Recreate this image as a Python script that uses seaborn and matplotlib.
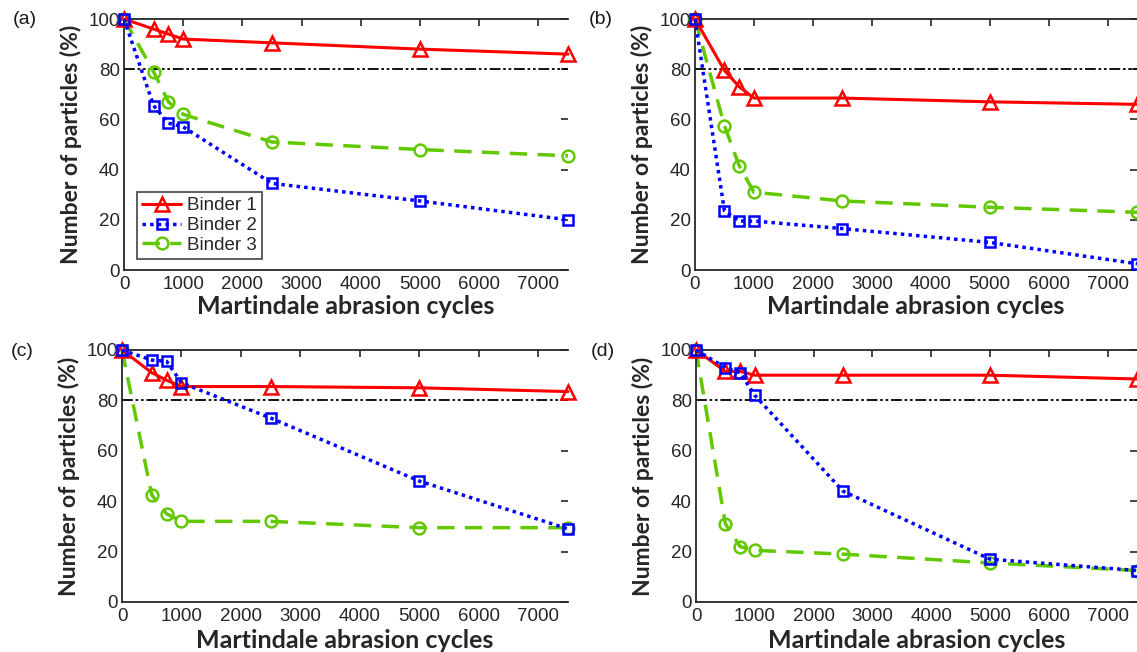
import matplotlib
matplotlib.use("Agg")
import matplotlib.pyplot as plt
import seaborn as sns
import pandas as pd

cycles = [0, 500, 750, 1000, 2500, 5000, 7500]
binders = ["Binder 1", "Binder 2", "Binder 3"]
panel_labels = ["(a)", "(b)", "(c)", "(d)"]

a_b1 = [100, 96, 94, 92, 90.5, 88, 86]
a_b2 = [100, 65.5, 58.5, 57, 34.5, 27.5, 20]
a_b3 = [100, 79, 67, 62, 51, 48, 45.5]

b_b1 = [100, 79.5, 73, 68.5, 68.5, 67, 66]
b_b2 = [100, 23.5, 19.5, 19.5, 16.5, 11, 2.5]
b_b3 = [100, 57.5, 41.5, 31, 27.5, 25, 23]

c_b1 = [100, 91, 88, 85.5, 85.5, 85, 83.5]
c_b2 = [100, 96, 95.5, 87, 73, 48, 29]
c_b3 = [100, 42.5, 35, 32, 32, 29.5, 29.5]

d_b1 = [100, 91.5, 91.5, 90, 90, 90, 88.5]
d_b2 = [100, 93, 91, 82, 44, 17, 12.5]
d_b3 = [100, 31, 22, 20.5, 19, 15.5, 12.5]

threshold = 80
xticks = [0, 1000, 2000, 3000, 4000, 5000, 6000, 7000]
yticks = [0, 20, 40, 60, 80, 100]
xlabel = "Martindale abrasion cycles"
ylabel = "Number of particles (%)"

panels = [[a_b1, a_b2, a_b3], [b_b1, b_b2, b_b3], [c_b1, c_b2, c_b3], [d_b1, d_b2, d_b3]]

sns.set_style("white")
plt.rcParams["font.family"] = ["Liberation Sans", "DejaVu Sans"]

styles = {
    "Binder 1": dict(color="#ff0000", linestyle="-", marker="^", markersize=10, lw=2.2, z=3),
    "Binder 2": dict(color="#0000ff", linestyle=(0, (1, 1.2)), marker="s", markersize=6.5, lw=2.5, z=4),
    "Binder 3": dict(color="#62c800", linestyle=(0, (5, 3)), marker="o", markersize=8.5, lw=2.5, z=2),
}

fig = plt.figure(figsize=(11.37, 6.52), dpi=100)
W, H = 1137, 652
boxes = [(124, 568, 19, 270), (695, 1137, 19, 270), (122, 568, 350, 602), (696, 1137, 350, 602)]
label_pos = [(25, 20), (601, 20), (22, 351), (603, 351)]
xlabel_pads = [2, 2, 3, 3]

for i, (series, box) in enumerate(zip(panels, boxes)):
    l, r, t, b = box
    ax = fig.add_axes([l / W, 1 - b / H, (r - l) / W, (b - t) / H])
    ax.axhline(threshold, color="black", lw=1.3, linestyle=(0, (6, 1.5, 1.5, 1.5, 1.5, 1.5)), zorder=1)
    for name, vals in zip(binders, series):
        st = styles[name]
        df = pd.DataFrame({"cycles": cycles, "value": vals})
        sns.lineplot(data=df, x="cycles", y="value", ax=ax, color=st["color"],
                     linestyle=st["linestyle"], lw=st["lw"], marker=st["marker"],
                     markersize=st["markersize"], markerfacecolor="none",
                     markeredgecolor=st["color"], markeredgewidth=1.8,
                     label=name if i == 0 else None, zorder=st["z"], clip_on=False)
    ax.set_xlim(0, 7500)
    ax.set_ylim(0, 100)
    ax.set_xticks(xticks)
    ax.set_yticks(yticks)
    ax.tick_params(direction="in", length=5, width=1.2, top=True, right=True,
                   labelsize=13.5, labelcolor="#262626", color="#262626", pad=3)
    ax.tick_params(axis="x", pad=4)
    for side in ["left", "top", "bottom"]:
        ax.spines[side].set_visible(True)
        ax.spines[side].set_color("#262626")
        ax.spines[side].set_linewidth(1.3)
    ax.spines["right"].set_visible(False)
    ax.set_xlabel(xlabel, fontsize=18, fontweight="bold", family=["Lato", "DejaVu Sans"],
                  labelpad=xlabel_pads[i])
    ax.set_ylabel(ylabel, fontsize=16.5, fontweight="bold", family=["Lato", "DejaVu Sans"], labelpad=5)
    fig.text(label_pos[i][0] / W, 1 - label_pos[i][1] / H, panel_labels[i], fontsize=14,
             ha="center", va="center", color="#1a1a1a")
    if i == 0:
        handles, labels = ax.get_legend_handles_labels()
        order = [labels.index(n) for n in binders]
        leg = ax.legend([handles[k] for k in order], [labels[k] for k in order],
                        loc="lower left", bbox_to_anchor=(0.03, 0.045), fontsize=13.5,
                        frameon=True, fancybox=False, handlelength=2.1, handletextpad=0.3,
                        borderpad=0.25, labelspacing=0.15, borderaxespad=0)
        leg.get_frame().set_edgecolor("#262626")
        leg.get_frame().set_linewidth(1.3)
    else:
        if ax.get_legend():
            ax.get_legend().remove()

fig.savefig("out.png", dpi=100)
